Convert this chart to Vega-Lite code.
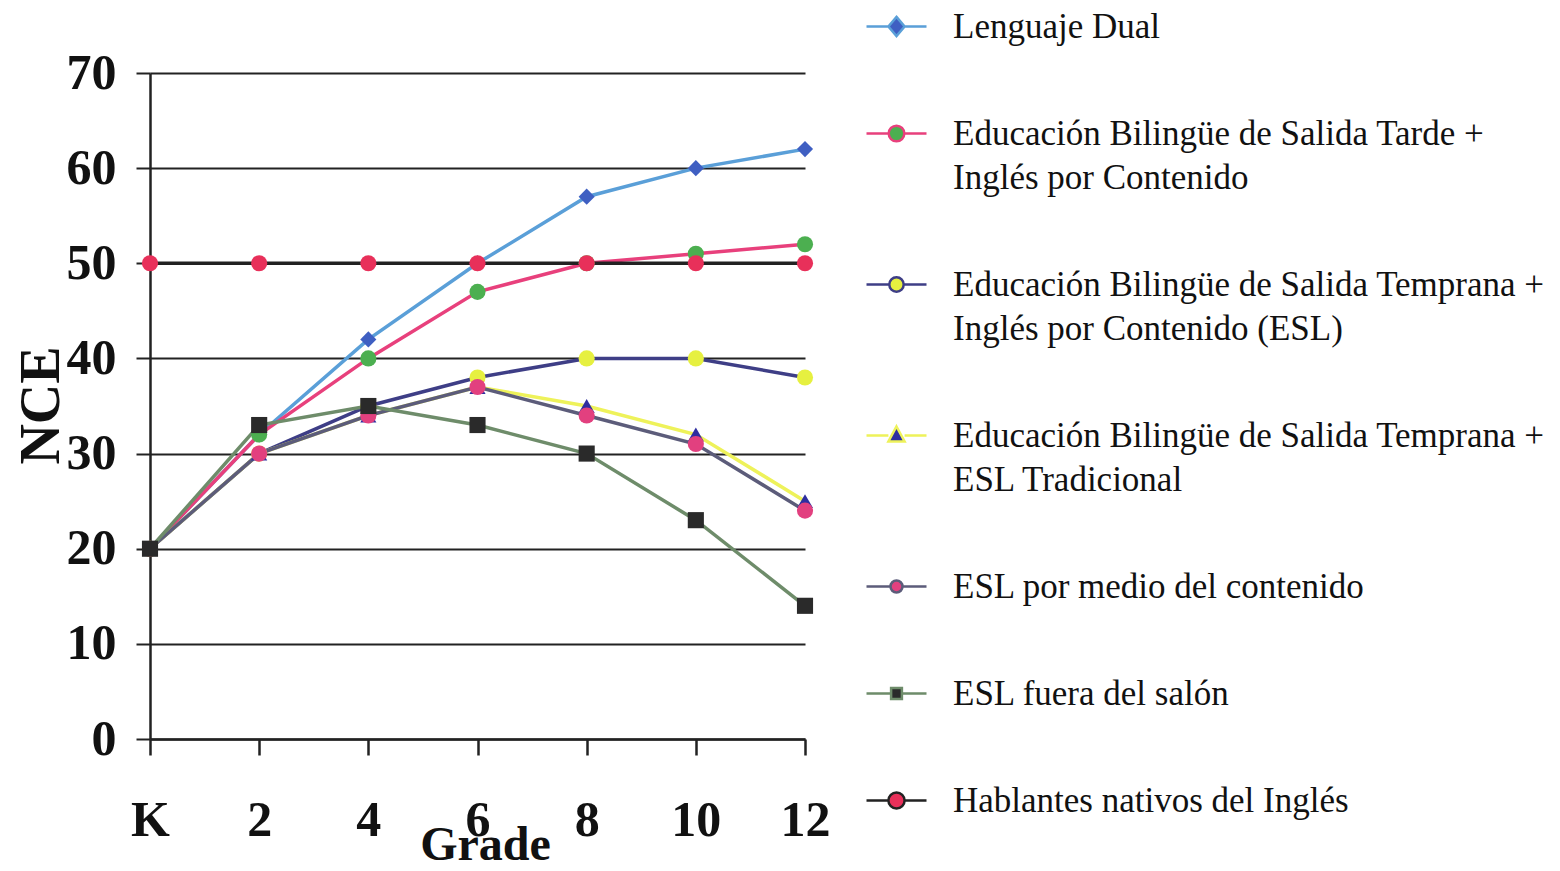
{
  "$schema": "https://vega.github.io/schema/vega-lite/v6.json",
  "autosize": {"type": "none"},
  "padding": {"left": 150, "top": 73, "right": 755, "bottom": 132},
  "width": 655,
  "height": 666,
  "background": "white",
  "config": {
    "view": {"stroke": null},
    "axis": {"labelFont": "Liberation Serif", "titleFont": "Liberation Serif", "labelFontWeight": "bold", "titleFontWeight": "bold", "labelColor": "#111", "titleColor": "#111"},
    "legend": {"labelFont": "Liberation Serif"},
    "style": {"guide-label": {"lineHeight": 44}}
  },
  "data": {"values": [
    {"serie": "Lenguaje Dual", "grado": 0, "nce": 20},
    {"serie": "Lenguaje Dual", "grado": 2, "nce": 32},
    {"serie": "Lenguaje Dual", "grado": 4, "nce": 42},
    {"serie": "Lenguaje Dual", "grado": 6, "nce": 50},
    {"serie": "Lenguaje Dual", "grado": 8, "nce": 57},
    {"serie": "Lenguaje Dual", "grado": 10, "nce": 60},
    {"serie": "Lenguaje Dual", "grado": 12, "nce": 62},
    {"serie": "Educación Bilingüe de Salida Tarde + Inglés por Contenido", "grado": 0, "nce": 20},
    {"serie": "Educación Bilingüe de Salida Tarde + Inglés por Contenido", "grado": 2, "nce": 32},
    {"serie": "Educación Bilingüe de Salida Tarde + Inglés por Contenido", "grado": 4, "nce": 40},
    {"serie": "Educación Bilingüe de Salida Tarde + Inglés por Contenido", "grado": 6, "nce": 47},
    {"serie": "Educación Bilingüe de Salida Tarde + Inglés por Contenido", "grado": 8, "nce": 50},
    {"serie": "Educación Bilingüe de Salida Tarde + Inglés por Contenido", "grado": 10, "nce": 51},
    {"serie": "Educación Bilingüe de Salida Tarde + Inglés por Contenido", "grado": 12, "nce": 52},
    {"serie": "Educación Bilingüe de Salida Temprana + Inglés por Contenido (ESL)", "grado": 0, "nce": 20},
    {"serie": "Educación Bilingüe de Salida Temprana + Inglés por Contenido (ESL)", "grado": 2, "nce": 30},
    {"serie": "Educación Bilingüe de Salida Temprana + Inglés por Contenido (ESL)", "grado": 4, "nce": 35},
    {"serie": "Educación Bilingüe de Salida Temprana + Inglés por Contenido (ESL)", "grado": 6, "nce": 38},
    {"serie": "Educación Bilingüe de Salida Temprana + Inglés por Contenido (ESL)", "grado": 8, "nce": 40},
    {"serie": "Educación Bilingüe de Salida Temprana + Inglés por Contenido (ESL)", "grado": 10, "nce": 40},
    {"serie": "Educación Bilingüe de Salida Temprana + Inglés por Contenido (ESL)", "grado": 12, "nce": 38},
    {"serie": "Educación Bilingüe de Salida Temprana + ESL Tradicional", "grado": 0, "nce": 20},
    {"serie": "Educación Bilingüe de Salida Temprana + ESL Tradicional", "grado": 2, "nce": 30},
    {"serie": "Educación Bilingüe de Salida Temprana + ESL Tradicional", "grado": 4, "nce": 34},
    {"serie": "Educación Bilingüe de Salida Temprana + ESL Tradicional", "grado": 6, "nce": 37},
    {"serie": "Educación Bilingüe de Salida Temprana + ESL Tradicional", "grado": 8, "nce": 35},
    {"serie": "Educación Bilingüe de Salida Temprana + ESL Tradicional", "grado": 10, "nce": 32},
    {"serie": "Educación Bilingüe de Salida Temprana + ESL Tradicional", "grado": 12, "nce": 25},
    {"serie": "ESL por medio del contenido", "grado": 0, "nce": 20},
    {"serie": "ESL por medio del contenido", "grado": 2, "nce": 30},
    {"serie": "ESL por medio del contenido", "grado": 4, "nce": 34},
    {"serie": "ESL por medio del contenido", "grado": 6, "nce": 37},
    {"serie": "ESL por medio del contenido", "grado": 8, "nce": 34},
    {"serie": "ESL por medio del contenido", "grado": 10, "nce": 31},
    {"serie": "ESL por medio del contenido", "grado": 12, "nce": 24},
    {"serie": "ESL fuera del salón", "grado": 0, "nce": 20},
    {"serie": "ESL fuera del salón", "grado": 2, "nce": 33},
    {"serie": "ESL fuera del salón", "grado": 4, "nce": 35},
    {"serie": "ESL fuera del salón", "grado": 6, "nce": 33},
    {"serie": "ESL fuera del salón", "grado": 8, "nce": 30},
    {"serie": "ESL fuera del salón", "grado": 10, "nce": 23},
    {"serie": "ESL fuera del salón", "grado": 12, "nce": 14},
    {"serie": "Hablantes nativos del Inglés", "grado": 0, "nce": 50},
    {"serie": "Hablantes nativos del Inglés", "grado": 2, "nce": 50},
    {"serie": "Hablantes nativos del Inglés", "grado": 4, "nce": 50},
    {"serie": "Hablantes nativos del Inglés", "grado": 6, "nce": 50},
    {"serie": "Hablantes nativos del Inglés", "grado": 8, "nce": 50},
    {"serie": "Hablantes nativos del Inglés", "grado": 10, "nce": 50},
    {"serie": "Hablantes nativos del Inglés", "grado": 12, "nce": 50}
  ]},
  "encoding": {
    "x": {"field": "grado", "type": "quantitative",
      "scale": {"domain": [0, 12], "nice": false, "zero": false},
      "axis": {"values": [0, 2, 4, 6, 8, 10, 12], "labelExpr": "datum.value == 0 ? 'K' : datum.label",
        "title": "Grade", "grid": false, "domainColor": "#222", "domainWidth": 2.5, "tickColor": "#222", "tickWidth": 2.5, "tickSize": 16,
        "labelFontSize": 50, "labelPadding": 40, "labelFlush": false, "labelOverlap": false,
        "titleFontSize": 48, "titleY": 120, "titleX": 335, "titleBaseline": "alphabetic", "titleAlign": "center"}},
    "y": {"field": "nce", "type": "quantitative",
      "scale": {"domain": [0, 70], "nice": false},
      "axis": {"values": [0, 10, 20, 30, 40, 50, 60, 70], "title": "NCE", "grid": true, "gridColor": "#222", "gridWidth": 2,
        "domainColor": "#222", "domainWidth": 2.5, "tickColor": "#222", "tickWidth": 2, "tickSize": 14,
        "labelFontSize": 50, "labelPadding": 20, "labelBaseline": "middle", "labelFlush": false,
        "titleFontSize": 56, "titleX": -92, "titleY": 332, "titleAngle": -90, "titleBaseline": "alphabetic", "titleAlign": "center"}}
  },
  "resolve": {"scale": {"shape": "independent", "fill": "independent", "stroke": "independent"}},
  "layer": [
    {
      "mark": {"type": "line", "strokeWidth": 3.5},
      "encoding": {
        "stroke": {"field": "serie", "type": "nominal", "legend": null,
          "scale": {"domain": ["Lenguaje Dual", "Educación Bilingüe de Salida Tarde + Inglés por Contenido", "Educación Bilingüe de Salida Temprana + Inglés por Contenido (ESL)", "Educación Bilingüe de Salida Temprana + ESL Tradicional", "ESL por medio del contenido", "ESL fuera del salón", "Hablantes nativos del Inglés"],
            "range": ["#5a9fd8", "#e8407c", "#3e3e86", "#eef25a", "#5c5c7a", "#6e8c6a", "#222222"]}}
      }
    },
    {
      "mark": {"type": "point", "filled": true, "size": 260, "opacity": 1},
      "encoding": {
        "fill": {"field": "serie", "type": "nominal", "legend": null,
          "scale": {"domain": ["Lenguaje Dual", "Educación Bilingüe de Salida Tarde + Inglés por Contenido", "Educación Bilingüe de Salida Temprana + Inglés por Contenido (ESL)", "Educación Bilingüe de Salida Temprana + ESL Tradicional", "ESL por medio del contenido", "ESL fuera del salón", "Hablantes nativos del Inglés"],
            "range": ["#3f5fc2", "#4caf50", "#e6f040", "#2e2ea0", "#e2407f", "#2a2a2a", "#e8305a"]}},
        "shape": {"field": "serie", "type": "nominal", "legend": null,
          "scale": {"domain": ["Lenguaje Dual", "Educación Bilingüe de Salida Tarde + Inglés por Contenido", "Educación Bilingüe de Salida Temprana + Inglés por Contenido (ESL)", "Educación Bilingüe de Salida Temprana + ESL Tradicional", "ESL por medio del contenido", "ESL fuera del salón", "Hablantes nativos del Inglés"],
            "range": ["diamond", "circle", "circle", "triangle-up", "circle", "square", "circle"]}}
      }
    },
    {
      "mark": {"type": "point", "filled": true, "opacity": 0},
      "encoding": {
        "fill": {"field": "serie", "type": "nominal",
          "scale": {"domain": ["Lenguaje Dual", "Educación Bilingüe de Salida Tarde + Inglés por Contenido", "Educación Bilingüe de Salida Temprana + Inglés por Contenido (ESL)", "Educación Bilingüe de Salida Temprana + ESL Tradicional", "ESL por medio del contenido", "ESL fuera del salón", "Hablantes nativos del Inglés"],
            "range": ["#3f5fc2", "#4caf50", "#e6f040", "#2e2ea0", "#e2407f", "#2a2a2a", "#e8305a"]},
          "legend": {"title": null, "orient": "none", "legendX": 715, "legendY": -78, "symbolSize": 3600, "symbolStrokeWidth": 2.5, "symbolOpacity": 1,
            "labelFontSize": 35, "labelColor": "#111", "labelLimit": 800, "labelOffset": 25, "rowPadding": 57, "labelBaseline": "middle",
            "labelExpr": "indexof(datum.label, ' + ') > 0 ? [substring(datum.label, 0, indexof(datum.label, ' + ') + 2), substring(datum.label, indexof(datum.label, ' + ') + 3)] : datum.label"}},
        "stroke": {"field": "serie", "type": "nominal",
          "scale": {"domain": ["Lenguaje Dual", "Educación Bilingüe de Salida Tarde + Inglés por Contenido", "Educación Bilingüe de Salida Temprana + Inglés por Contenido (ESL)", "Educación Bilingüe de Salida Temprana + ESL Tradicional", "ESL por medio del contenido", "ESL fuera del salón", "Hablantes nativos del Inglés"],
            "range": ["#5a9fd8", "#e8407c", "#3e3e86", "#eef25a", "#5c5c7a", "#6e8c6a", "#222222"]},
          "legend": {"title": null, "orient": "none", "legendX": 715, "legendY": -78, "symbolSize": 3600, "symbolStrokeWidth": 2.5, "symbolOpacity": 1,
            "labelFontSize": 35, "labelColor": "#111", "labelLimit": 800, "labelOffset": 25, "rowPadding": 57, "labelBaseline": "middle",
            "labelExpr": "indexof(datum.label, ' + ') > 0 ? [substring(datum.label, 0, indexof(datum.label, ' + ') + 2), substring(datum.label, indexof(datum.label, ' + ') + 3)] : datum.label"}},
        "shape": {"field": "serie", "type": "nominal",
          "scale": {"domain": ["Lenguaje Dual", "Educación Bilingüe de Salida Tarde + Inglés por Contenido", "Educación Bilingüe de Salida Temprana + Inglés por Contenido (ESL)", "Educación Bilingüe de Salida Temprana + ESL Tradicional", "ESL por medio del contenido", "ESL fuera del salón", "Hablantes nativos del Inglés"],
            "range": [
              "M-1,0H-0.27M0.27,0H1M0,-0.32L0.27,0L0,0.32L-0.27,0Z",
              "M-1,0H-0.26M0.26,0H1M-0.26,0A0.26,0.26,0,1,0,0.26,0A0.26,0.26,0,1,0,-0.26,0Z",
              "M-1,0H-0.24M0.24,0H1M-0.24,0A0.24,0.24,0,1,0,0.24,0A0.24,0.24,0,1,0,-0.24,0Z",
              "M-1,0H-0.27M0.27,0H1M0,-0.3L0.27,0.2L-0.27,0.2Z",
              "M-1,0H-0.2M0.2,0H1M-0.2,0A0.2,0.2,0,1,0,0.2,0A0.2,0.2,0,1,0,-0.2,0Z",
              "M-1,0H-0.18M0.18,0H1M-0.18,-0.18H0.18V0.18H-0.18Z",
              "M-1,0H-0.27M0.27,0H1M-0.27,0A0.27,0.27,0,1,0,0.27,0A0.27,0.27,0,1,0,-0.27,0Z"
            ]},
          "legend": {"title": null, "orient": "none", "legendX": 715, "legendY": -78, "symbolSize": 3600, "symbolStrokeWidth": 2.5, "symbolOpacity": 1,
            "labelFontSize": 35, "labelColor": "#111", "labelLimit": 800, "labelOffset": 25, "rowPadding": 57, "labelBaseline": "middle",
            "labelExpr": "indexof(datum.label, ' + ') > 0 ? [substring(datum.label, 0, indexof(datum.label, ' + ') + 2), substring(datum.label, indexof(datum.label, ' + ') + 3)] : datum.label"}}
      }
    }
  ]
}
